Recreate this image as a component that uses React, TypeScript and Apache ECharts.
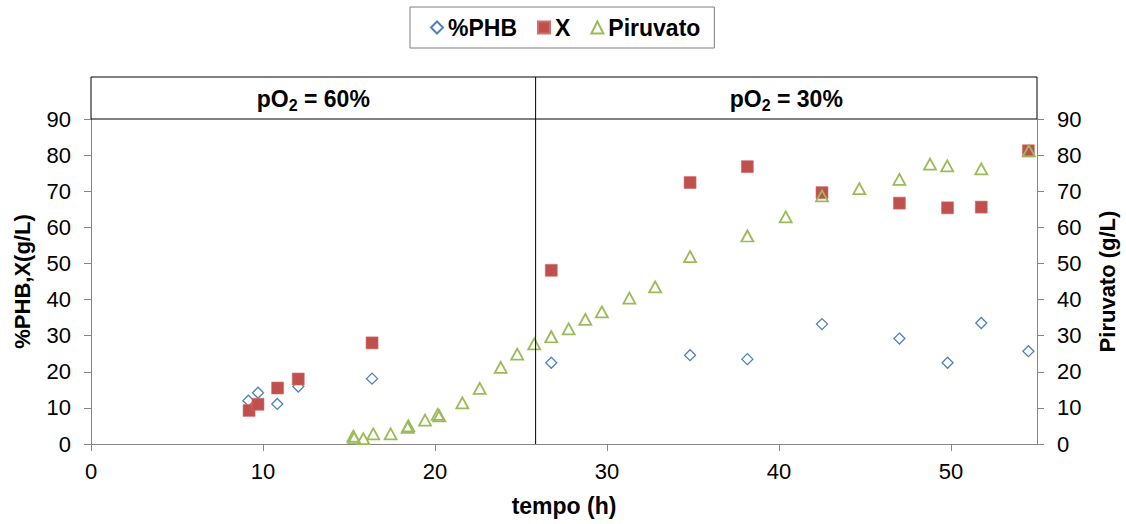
import React, { useEffect, useRef } from 'react';
import * as echarts from 'echarts';

const FONT = '"Liberation Sans", Arial, sans-serif';

// %PHB (blue hollow diamonds)
const phbTime = [9.15, 9.71, 10.83, 12.05, 16.34, 26.76, 34.83, 38.16, 42.5, 47.0, 49.8, 51.76, 54.5];
const phbValue = [12.0, 14.2, 11.1, 15.9, 18.1, 22.5, 24.6, 23.5, 33.2, 29.2, 22.5, 33.5, 25.7];

// X biomass (red squares)
const xTime = [9.19, 9.71, 10.85, 12.05, 16.34, 26.76, 34.83, 38.16, 42.5, 47.0, 49.8, 51.76, 54.5];
const xValue = [9.3, 11.0, 15.5, 18.0, 28.0, 48.1, 72.4, 76.8, 69.6, 66.7, 65.4, 65.6, 81.2];

// Piruvato (green hollow triangles, right axis)
const pirTime = [15.25, 15.3, 15.83, 16.41, 17.42, 18.41, 18.45, 19.42, 20.16, 20.25, 21.59, 22.6, 23.82, 24.78, 25.77, 26.76, 27.77, 28.74, 29.7, 31.3, 32.8, 34.83, 38.16, 40.39, 42.5, 44.67, 47.0, 48.78, 49.78, 51.76, 54.53];
const pirValue = [2.2, 1.7, 1.5, 2.8, 2.8, 4.6, 5.0, 6.6, 8.2, 7.8, 11.4, 15.4, 21.2, 24.9, 27.7, 29.7, 31.9, 34.5, 36.6, 40.4, 43.5, 51.9, 57.6, 62.9, 68.7, 70.7, 73.3, 77.5, 77.0, 76.2, 81.2];

const seriesNames = ['%PHB', 'X', 'Piruvato'];
const dividerTime = 25.85;
const phaseLabels = ['60%', '30%'];

const zip = (a: number[], b: number[]) => a.map((v, i) => [v, b[i]]);

export default function App() {
  const ref = useRef<HTMLDivElement>(null);
  useEffect(() => {
    const chart = echarts.init(ref.current!, null, { renderer: 'svg' });
    const axisGray = '#868686';
    const yAxisCommon = {
      type: 'value',
      min: 0,
      max: 90,
      interval: 10,
      splitLine: { show: false },
      axisLine: { show: true, lineStyle: { color: axisGray, width: 1 } },
      axisTick: { show: true, inside: false, length: 7, lineStyle: { color: axisGray } },
      axisLabel: { color: '#000', fontSize: 22, fontFamily: FONT, margin: 20 },
      nameLocation: 'middle',
      nameRotate: 90,
      nameTextStyle: { color: '#000', fontSize: 22, fontWeight: 'bold', fontFamily: FONT },
    };
    const option: any = {
      animation: false,
      backgroundColor: '#fff',
      textStyle: { fontFamily: FONT },
      grid: { left: 91, right: 89, top: 119, bottom: 80, containLabel: false },
      legend: {
        data: seriesNames,
        left: 410,
        top: 7,
        padding: [9, 14, 9, 20],
        borderColor: '#7f7f7f',
        borderWidth: 1,
        itemWidth: 12,
        itemHeight: 12,
        itemGap: 20,
        itemTextGap: 5,
        textStyle: { color: '#000', fontSize: 23, fontWeight: 'bold', fontFamily: FONT },
      },
      xAxis: {
        type: 'value',
        min: 0,
        max: 55,
        interval: 10,
        splitLine: { show: false },
        axisLine: { show: true, onZero: false, lineStyle: { color: axisGray } },
        axisTick: { show: true, inside: false, length: 7, lineStyle: { color: axisGray } },
        axisLabel: { color: '#000', fontSize: 22, fontFamily: FONT, margin: 16, showMaxLabel: false },
        name: 'tempo (h)',
        nameLocation: 'middle',
        nameGap: 50,
        nameTextStyle: { color: '#000', fontSize: 23, fontWeight: 'bold', fontFamily: FONT },
      },
      yAxis: [
        { ...yAxisCommon, position: 'left', name: '%PHB,X(g/L)', nameGap: 58 },
        { ...yAxisCommon, position: 'right', name: 'Piruvato (g/L)', nameGap: 59 },
      ],
      series: [
        {
          name: seriesNames[0],
          type: 'scatter',
          yAxisIndex: 0,
          symbol: 'diamond',
          symbolSize: 11,
          itemStyle: { color: '#fff', borderColor: '#4F81BD', borderWidth: 1.3, opacity: 1 },
          data: zip(phbTime, phbValue),
        },
        {
          name: seriesNames[1],
          type: 'scatter',
          yAxisIndex: 0,
          symbol: 'rect',
          symbolSize: 12,
          itemStyle: { color: '#C0504D', borderColor: '#cf6f6c', borderWidth: 0.6, opacity: 1 },
          data: zip(xTime, xValue),
        },
        {
          name: seriesNames[2],
          type: 'scatter',
          yAxisIndex: 1,
          symbol: 'triangle',
          symbolSize: [12, 11],
          itemStyle: { color: 'rgba(255,255,255,0)', borderColor: '#9BBB59', borderWidth: 1.8, opacity: 1 },
          data: zip(pirTime, pirValue),
        },
      ],
    };
    chart.setOption(option);

    const [x0, yTop] = chart.convertToPixel({ gridIndex: 0 }, [0, 90]) as number[];
    const [x1] = chart.convertToPixel({ gridIndex: 0 }, [55, 90]) as number[];
    const [xd, yBottom] = chart.convertToPixel({ gridIndex: 0 }, [dividerTime, 0]) as number[];
    const boxH = 42;
    const rich = {
      a: { fontSize: 23, fontWeight: 'bold', fontFamily: FONT, color: '#000', lineHeight: 28, verticalAlign: 'middle' },
      s: { fontSize: 16, fontWeight: 'bold', fontFamily: FONT, color: '#000', lineHeight: 16, verticalAlign: 'bottom' },
    };
    const mkText = (cx: number, label: string) => ({
      type: 'text',
      x: cx,
      y: yTop - boxH / 2 + 1,
      z: 10,
      style: {
        text: `{a|pO}{s|2}{a| = ${label}}`,
        rich,
        align: 'center',
        verticalAlign: 'middle',
      },
    });
    chart.setOption({
      graphic: [
        {
          type: 'rect',
          z: 10,
          shape: { x: x0, y: yTop - boxH, width: x1 - x0, height: boxH },
          style: { fill: 'none', stroke: '#000', lineWidth: 1 },
        },
        {
          type: 'line',
          z: 10,
          shape: { x1: xd, y1: yTop - boxH, x2: xd, y2: yBottom },
          style: { stroke: '#000', lineWidth: 1 },
        },
        mkText((x0 + xd) / 2, phaseLabels[0]),
        mkText((xd + x1) / 2, phaseLabels[1]),
      ],
    });
    return () => chart.dispose();
  }, []);
  return <div ref={ref} style={{ position: 'fixed', left: 0, top: 0, width: 1126, height: 524 }} />;
}
